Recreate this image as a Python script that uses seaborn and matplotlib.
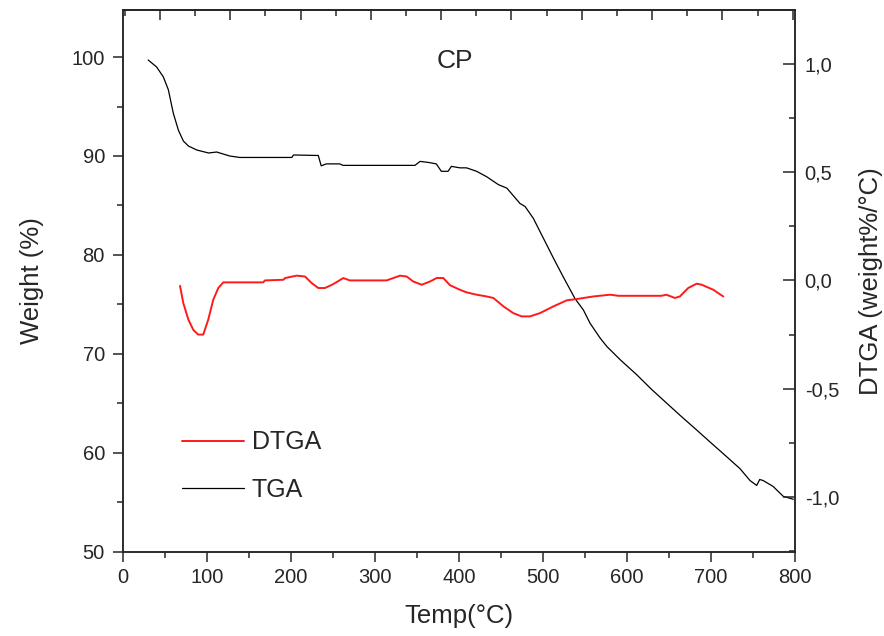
import matplotlib
matplotlib.use("Agg")
import matplotlib.pyplot as plt
import seaborn as sns
import pandas as pd
from matplotlib.ticker import MultipleLocator, FuncFormatter
from matplotlib.lines import Line2D

# ---- data ----
tga_temp = [30, 40, 48, 54, 60, 66, 72, 78, 88, 102, 111.5, 127, 139, 201, 203, 232.5, 236, 242,
            258, 262, 347.6, 353.6, 363.5, 373, 379, 387, 391, 401, 409, 421, 433, 447, 457,
            472.6, 478.6, 488.5, 500.4, 512.3, 524, 538, 548, 556, 568, 576, 592, 611.5, 629.4,
            641, 663, 683, 698.8, 718.7, 734.5, 746.4, 754.4, 758, 762, 774, 786, 798]
tga_weight = [99.7, 99.0, 98.0, 96.7, 94.3, 92.6, 91.5, 91.0, 90.6, 90.3, 90.4, 90.0, 89.85, 89.85,
              90.1, 90.05, 89.0, 89.2, 89.2, 89.05, 89.05, 89.45, 89.35, 89.2, 88.45, 88.45, 88.95,
              88.8, 88.8, 88.45, 87.9, 87.1, 86.75, 85.2, 84.9, 83.7, 81.7, 79.7, 77.8, 75.6, 74.45,
              73.1, 71.6, 70.75, 69.4, 67.9, 66.4, 65.5, 63.8, 62.3, 61.1, 59.6, 58.4, 57.2, 56.7,
              57.3, 57.2, 56.6, 55.6, 55.3]

dtga_temp = [67.9, 71.8, 77.8, 83.7, 89.6, 95.6, 101.6, 107.5, 113.5, 119.4, 167, 169, 191, 193,
             206.8, 216.7, 224.6, 232.5, 240.5, 250.4, 262.3, 270, 313.9, 329.8, 337.7, 345.6,
             355.6, 365.5, 373.4, 381.3, 389.3, 401, 409, 421, 433, 441, 453, 464.7, 474.6, 484.5,
             496.4, 512.3, 528.2, 540, 560, 580, 590, 641, 647, 657, 663, 672.9, 683, 689, 702.7,
             714.6]
dtga_value = [-0.025, -0.104, -0.18, -0.228, -0.25, -0.25, -0.18, -0.089, -0.035, -0.009, -0.009,
              0.0, 0.003, 0.011, 0.022, 0.018, -0.012, -0.035, -0.035, -0.017, 0.011, 0.0, 0.0,
              0.022, 0.018, -0.005, -0.02, -0.005, 0.011, 0.011, -0.022, -0.043, -0.055, -0.066,
              -0.074, -0.081, -0.12, -0.151, -0.166, -0.166, -0.151, -0.12, -0.092, -0.086, -0.074,
              -0.066, -0.071, -0.071, -0.066, -0.081, -0.074, -0.035, -0.015, -0.02, -0.043, -0.074]

title_text = "CP"
x_label = "Temp(°C)"
y_label = "Weight (%)"
y2_label = "DTGA (weight%/°C)"

# ---- style ----
sns.set_style("ticks")
plt.rcParams['font.family'] = ['Liberation Sans', 'DejaVu Sans']
plt.rcParams['axes.linewidth'] = 1.1

tga_df = pd.DataFrame({"temp": tga_temp, "weight": tga_weight})
dtga_df = pd.DataFrame({"temp": dtga_temp, "dtga": dtga_value})

fig = plt.figure(figsize=(8.84, 6.36), dpi=100)
ax = fig.add_axes([0.1391, 0.1325, 0.7602, 0.8525])
ax2 = ax.twinx()

sns.lineplot(data=tga_df, x="temp", y="weight", ax=ax, color="black", lw=0.9,
             sort=False, estimator=None)
sns.lineplot(data=dtga_df, x="temp", y="dtga", ax=ax2, color="#ff1a1a", lw=1.4,
             sort=False, estimator=None)

ax.set_xlim(0, 800)
ax.set_ylim(50, 104.8)
ax2.set_ylim(-1.252, 1.25)

tick_fs = 14.5
lab_fs = 18.5

ax.xaxis.set_major_locator(MultipleLocator(100))
ax.xaxis.set_minor_locator(MultipleLocator(50))
ax.yaxis.set_major_locator(MultipleLocator(10))
ax.yaxis.set_minor_locator(MultipleLocator(5))
ax2.yaxis.set_major_locator(MultipleLocator(0.5))
ax2.yaxis.set_minor_locator(MultipleLocator(0.25))
ax2.yaxis.set_major_formatter(FuncFormatter(lambda v, p: f"{v:.1f}".replace('.', ',')))

ax.tick_params(axis='x', which='major', direction='out', length=7, width=1.1,
               labelsize=tick_fs, pad=5, top=False)
ax.tick_params(axis='x', which='minor', direction='out', length=4, width=1.1, top=False)
ax.tick_params(axis='y', which='major', direction='out', length=7, width=1.1,
               labelsize=tick_fs, pad=6)
ax.tick_params(axis='y', which='minor', direction='out', length=4.5, width=1.1)
ax2.tick_params(axis='y', which='major', direction='in', length=9, width=1.1,
                labelsize=tick_fs, pad=7)
ax2.tick_params(axis='y', which='minor', direction='in', length=4.5, width=1.1)

# top axis with its own tick spacing
sec = ax.secondary_xaxis('top', functions=(lambda x: (x - 44.05) / 0.8369,
                                           lambda t: t * 0.8369 + 44.05))
sec.xaxis.set_major_locator(MultipleLocator(100))
sec.xaxis.set_minor_locator(MultipleLocator(50))
sec.tick_params(which='major', direction='in', length=7, width=1.1, labeltop=False)
sec.tick_params(which='minor', direction='in', length=4, width=1.1)

for a in (ax, ax2):
    for s in a.spines.values():
        s.set_visible(True)
        s.set_linewidth(1.1)

ax.set_xlabel(x_label, fontsize=lab_fs, labelpad=12)
ax.set_ylabel(y_label, fontsize=lab_fs, labelpad=20)
ax2.set_ylabel(y2_label, fontsize=lab_fs, labelpad=14)

ax.text(0.494, 0.905, title_text, transform=ax.transAxes, fontsize=19, ha='center', va='center')

handles = [Line2D([], [], color="#ff1a1a", lw=1.4), Line2D([], [], color="black", lw=0.9)]
ax.legend(handles, ["DTGA", "TGA"], loc='upper left', bbox_to_anchor=(0.0878, 0.224),
          frameon=False, fontsize=18, handlelength=2.5, handletextpad=0.3,
          labelspacing=0.95, borderpad=0, borderaxespad=0)

fig.savefig("out.png", dpi=100)
